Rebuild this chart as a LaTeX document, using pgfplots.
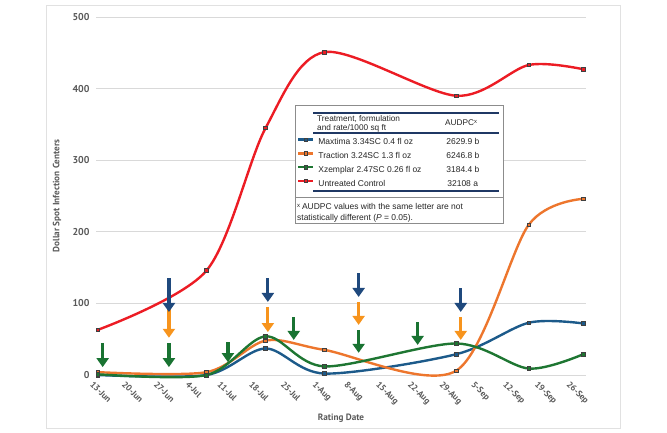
\documentclass[border=0pt]{standalone}
\usepackage{pgfplots}
\pgfplotsset{compat=1.18}
\usepackage{fontspec}
\setmainfont{Liberation Sans}
\newfontfamily\axfont{PT Sans}
\usetikzlibrary{arrows.meta}
\definecolor{textgray}{RGB}{89,89,89}
\definecolor{gridgray}{RGB}{217,217,217}
\definecolor{framegray}{RGB}{225,225,225}
\definecolor{cRed}{RGB}{236,28,36}
\definecolor{cOrange}{RGB}{237,118,45}
\definecolor{cGreen}{RGB}{30,118,50}
\definecolor{cBlue}{RGB}{28,90,138}
\definecolor{aBlue}{RGB}{31,73,125}
\definecolor{aOrange}{RGB}{247,148,29}
\definecolor{aGreen}{RGB}{25,115,50}
\definecolor{navy}{RGB}{31,56,100}
\tikzset{
  arr/.style={-{Triangle[width=12bp,length=9bp]}, line width=3.2bp},
  ser/.style={color=#1, line width=2.4bp, smooth, mark=square*, mark size=1.8bp,
    mark options={draw=black!75, fill=#1, line width=0.6bp, solid}},
}
\begin{document}
\begin{tikzpicture}
\path[use as bounding box] (-96bp,-58bp) rectangle (571bp,375bp);
\draw[color=framegray, line width=0.8bp] (-50bp,-53bp) rectangle (524bp,370bp);
\begin{axis}[
  at={(0,0)}, anchor=south west,
  scale only axis, width=490bp, height=358bp,
  xmin=-0.37, xmax=107.6, ymin=0, ymax=500,
  clip=false,
  axis line style={draw=none},
  tick style={draw=none},
  ymajorgrids, major grid style={color=gridgray, line width=0.8bp},
  ytick={0,100,...,500},
  xtick={0,7,...,105},
  xticklabels={13-Jun,20-Jun,27-Jun,4-Jul,11-Jul,18-Jul,25-Jul,1-Aug,8-Aug,15-Aug,22-Aug,29-Aug,5-Sep,12-Sep,19-Sep,26-Sep},
  /pgf/number format/assume math mode=true,
  yticklabel style={font=\axfont\bfseries\fontsize{10}{11}\selectfont, text=textgray, xshift=-3bp},
  xticklabel style={font=\axfont\bfseries\fontsize{8.8}{10}\selectfont, text=textgray, rotate=-45, anchor=north west, yshift=-3bp, xshift=-2bp},
  xlabel={Rating Date}, ylabel={Dollar Spot Infection Centers},
  label style={font=\axfont\bfseries\fontsize{9.2}{11}\selectfont, text=textgray},
  xlabel style={at={(axis description cs:0.5,-0.12)}, anchor=center},
  ylabel style={at={(axis description cs:-0.0796,0.5)}, anchor=center},
  legend style={at={(axis description cs:0.4102,0.6696)}, anchor=north west,
    draw=none, fill=none, inner sep=0pt, outer sep=0pt, row sep=0pt,
    font=\fontsize{8.5}{10}\selectfont, text=black!85,
    /tikz/every odd column/.append style={column sep=4bp},
    nodes={inner sep=0pt, text height=9.7bp, text depth=4bp}},
  legend cell align=left,
  legend image code/.code={\draw[mark repeat=2,mark phase=2,#1,line width=2.4bp] plot coordinates {(0bp,2.5bp) (7.5bp,2.5bp) (15bp,2.5bp)};},
]
% legend box (white, covers gridlines)
\draw[color=black!45, fill=white, line width=0.7bp] (rel axis cs:0.4061,0.7542) rectangle (rel axis cs:0.8306,0.4246);
\draw[color=black!45, line width=0.7bp] (rel axis cs:0.4061,0.4972) -- (rel axis cs:0.8306,0.4972);

\addplot[ser=cBlue] coordinates {(0,0) (24,0) (37,37) (50,2) (79,29) (95,73) (107,72)};
\addlegendentry{\makebox[128bp][l]{Maxtima 3.34SC 0.4 fl oz}2629.9 b}
\addplot[ser=cOrange] coordinates {(0,4) (24,4) (37,48) (50,35) (79,6) (95,210) (107,246)};
\addlegendentry{\makebox[128bp][l]{Traction 3.24SC 1.3 fl oz}6246.8 b}
\addplot[ser=cGreen] coordinates {(0,1) (24,0) (37,54) (50,12) (79,44) (95,9) (107,29)};
\addlegendentry{\makebox[128bp][l]{Xzemplar 2.47SC 0.26 fl oz}3184.4 b}
\addplot[ser=cRed] coordinates {(0,63) (24,146) (37,345) (50,451) (79,390) (95,433) (107,427)};
\addlegendentry{\makebox[128bp][l]{Untreated Control}\hspace{1bp}32108 a}

% application arrows
\draw[arr, aGreen] (axis cs:1.1,45) -- (axis cs:1.1,11);
\draw[arr, aGreen] (axis cs:15.7,45) -- (axis cs:15.7,11);
\draw[arr, aGreen] (axis cs:28.7,46) -- (axis cs:28.7,18);
\draw[arr, aGreen] (axis cs:43.2,81) -- (axis cs:43.2,49);
\draw[arr, aGreen] (axis cs:57.5,63) -- (axis cs:57.5,31);
\draw[arr, aGreen] (axis cs:70.5,74) -- (axis cs:70.5,42);
\draw[arr, aOrange] (axis cs:15.7,95) -- (axis cs:15.7,52);
\draw[arr, aOrange] (axis cs:37.5,95) -- (axis cs:37.5,60);
\draw[arr, aOrange] (axis cs:57.5,102) -- (axis cs:57.5,70);
\draw[arr, aOrange] (axis cs:80,81) -- (axis cs:80,49);
\draw[arr, aBlue] (axis cs:15.7,135) -- (axis cs:15.7,88);
\draw[arr, aBlue] (axis cs:37.5,135) -- (axis cs:37.5,102);
\draw[arr, aBlue] (axis cs:57.5,142) -- (axis cs:57.5,109);
\draw[arr, aBlue] (axis cs:80,121) -- (axis cs:80,88);
\end{axis}
% legend table decorations
\draw[navy, line width=1.4bp] (217bp,262bp) -- (403bp,262bp);
\draw[navy, line width=1.4bp] (217bp,242bp) -- (403bp,242bp);
\draw[navy, line width=1.4bp] (217bp,184bp) -- (403bp,184bp);
\node[anchor=base west, inner sep=0pt, font=\fontsize{8.3}{9}\selectfont, text=black!85] at (221bp,253.3bp) {Treatment, formulation};
\node[anchor=base west, inner sep=0pt, font=\fontsize{8.3}{9}\selectfont, text=black!85] at (221bp,244.3bp) {and rate/1000 sq ft};
\node[anchor=base west, inner sep=0pt, font=\fontsize{8.3}{9}\selectfont, text=black!85] at (349bp,249bp) {AUDPC\textsuperscript{x}};
\node[anchor=base west, inner sep=0pt, font=\fontsize{8.5}{10}\selectfont, text=black!85] at (201bp,165bp) {\textsuperscript{x}\,AUDPC values with the same letter are not};
\node[anchor=base west, inner sep=0pt, font=\fontsize{8.5}{10}\selectfont, text=black!85] at (201bp,154.3bp) {statistically different (\textit{P} = 0.05).};
\end{tikzpicture}
\end{document}
